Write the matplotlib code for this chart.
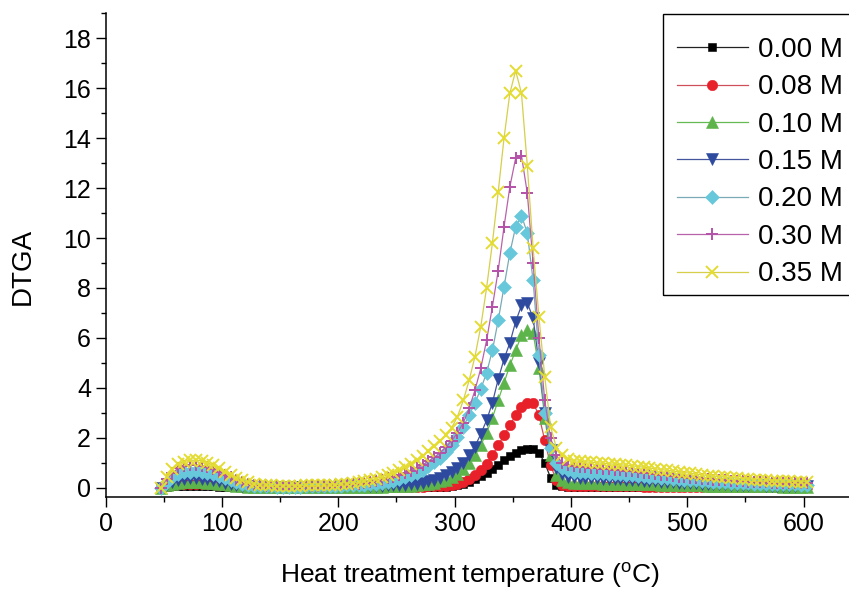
import numpy as np
import matplotlib
matplotlib.use("Agg")
import matplotlib.pyplot as plt
from matplotlib.patches import Rectangle
from matplotlib.ticker import MultipleLocator

plt.rcParams['font.family'] = ['Liberation Sans', 'DejaVu Sans']
plt.rcParams['mathtext.fontset'] = 'custom'
plt.rcParams['mathtext.rm'] = 'Liberation Sans'

# temperature grid of the measurement (every 5 degC)
temps = np.arange(47.5, 603, 5.0)

dtga_000 = [
    0.0, 0.03, 0.05, 0.06, 0.07, 0.07, 0.07, 0.07, 0.06, 0.05, 0.04, 0.03, 0.02, 0.02, 0.01, 0.01, 0.01, 0.01, 0.01,
    0.01, 0.01, 0.01, 0.01, 0.01, 0.01, 0.01, 0.01, 0.01, 0.01, 0.01,
    0.01, 0.01, 0.01, 0.01, 0.01, 0.01, 0.01, 0.01, 0.01, 0.01, 0.01, 0.01, 0.01, 0.01, 0.01, 0.01, 0.02, 0.02, 0.03, 0.04,
    0.06, 0.1, 0.16, 0.24, 0.34, 0.46, 0.6, 0.76, 0.93, 1.1, 1.26, 1.4, 1.5, 1.56, 1.55, 1.4, 1.0, 0.4, 0.12, 0.05, 0.03,
    0.02, 0.02, 0.02, 0.02, 0.02, 0.02, 0.02, 0.02, 0.02, 0.02, 0.02, 0.02, 0.02, 0.02, 0.02, 0.02, 0.02, 0.02, 0.02, 0.02,
    0.01, 0.01, 0.01, 0.01, 0.01, 0.01, 0.01, 0.01, 0.01, 0.01, 0.01, 0.01, 0.01, 0.01, 0.01, 0.01, 0.01, 0.01, 0.01, 0.01, 0.01,
]
dtga_008 = [
    0.0, 0.07, 0.11, 0.14, 0.16, 0.17, 0.17, 0.16, 0.15, 0.13, 0.11, 0.09, 0.07, 0.05, 0.04, 0.03, 0.02, 0.02, 0.02,
    0.02, 0.02, 0.02, 0.02, 0.02, 0.02, 0.02, 0.02, 0.02, 0.02, 0.02,
    0.02, 0.02, 0.02, 0.02, 0.02, 0.02, 0.02, 0.02, 0.02, 0.02, 0.03, 0.03, 0.03, 0.03, 0.04, 0.04, 0.05, 0.06, 0.07, 0.08,
    0.1, 0.15, 0.25, 0.35, 0.5, 0.7, 0.95, 1.3, 1.7, 2.1, 2.5, 2.9, 3.25, 3.4, 3.4, 2.9, 1.9, 0.9, 0.3, 0.12, 0.08,
    0.07, 0.07, 0.07, 0.06, 0.06, 0.06, 0.06, 0.05, 0.05, 0.05, 0.05, 0.05, 0.04, 0.04, 0.04, 0.04, 0.04, 0.03, 0.03, 0.03,
    0.03, 0.03, 0.03, 0.03, 0.02, 0.02, 0.02, 0.02, 0.02, 0.02, 0.02, 0.02, 0.02, 0.01, 0.01, 0.01, 0.01, 0.01, 0.01, 0.01, 0.01,
]
dtga_010 = [
    0.0, 0.1, 0.16, 0.2, 0.22, 0.23, 0.23, 0.22, 0.21, 0.19, 0.16, 0.13, 0.1, 0.07, 0.05, 0.04, 0.03, 0.02, 0.02,
    0.02, 0.02, 0.02, 0.02, 0.02, 0.02, 0.02, 0.02, 0.02, 0.02, 0.02,
    0.02, 0.02, 0.02, 0.03, 0.03, 0.03, 0.03, 0.04, 0.04, 0.05, 0.05, 0.06, 0.07, 0.08, 0.1, 0.13, 0.16, 0.2, 0.26, 0.33,
    0.42, 0.55, 0.75, 1.0, 1.3, 1.7, 2.2, 2.8, 3.5, 4.2, 4.9, 5.5, 6.1, 6.3, 6.2, 4.8, 2.8, 1.3, 0.5, 0.3, 0.22,
    0.2, 0.19, 0.19, 0.18, 0.18, 0.17, 0.17, 0.16, 0.16, 0.15, 0.15, 0.14, 0.14, 0.13, 0.13, 0.12, 0.12, 0.11, 0.11, 0.1,
    0.1, 0.09, 0.09, 0.08, 0.08, 0.08, 0.07, 0.07, 0.07, 0.06, 0.06, 0.06, 0.05, 0.05, 0.05, 0.05, 0.04, 0.04, 0.04, 0.04, 0.04,
]
dtga_015 = [
    0.0, 0.15, 0.25, 0.32, 0.36, 0.38, 0.38, 0.37, 0.35, 0.31, 0.26, 0.21, 0.16, 0.12, 0.08, 0.06, 0.04, 0.03, 0.03,
    0.03, 0.03, 0.03, 0.03, 0.03, 0.03, 0.03, 0.03, 0.03, 0.04, 0.04,
    0.04, 0.04, 0.05, 0.05, 0.05, 0.06, 0.06, 0.07, 0.08, 0.09, 0.1, 0.11, 0.12, 0.14, 0.17, 0.21, 0.26, 0.32, 0.4, 0.5,
    0.62, 0.8, 1.0, 1.3, 1.65, 2.15, 2.7, 3.4, 4.35, 5.15, 5.8, 6.65, 7.3, 7.4, 6.8, 5.0, 3.0, 1.5, 0.8, 0.55, 0.45,
    0.42, 0.41, 0.4, 0.39, 0.38, 0.37, 0.36, 0.35, 0.34, 0.33, 0.32, 0.3, 0.29, 0.28, 0.26, 0.25, 0.24, 0.22, 0.21, 0.2,
    0.19, 0.18, 0.17, 0.16, 0.15, 0.14, 0.13, 0.12, 0.11, 0.1, 0.1, 0.09, 0.09, 0.08, 0.08, 0.07, 0.07, 0.06, 0.06, 0.06, 0.05,
]
dtga_020 = [
    0.0, 0.25, 0.42, 0.55, 0.62, 0.65, 0.66, 0.64, 0.6, 0.54, 0.46, 0.38, 0.3, 0.22, 0.16, 0.11, 0.08, 0.06, 0.05,
    0.05, 0.04, 0.04, 0.04, 0.04, 0.04, 0.05, 0.05, 0.05, 0.06, 0.06,
    0.07, 0.08, 0.09, 0.1, 0.11, 0.12, 0.14, 0.16, 0.19, 0.23, 0.28, 0.34, 0.42, 0.5, 0.6, 0.72, 0.86, 1.02, 1.2, 1.42,
    1.7, 2.05, 2.45, 2.9, 3.4, 3.95, 4.6, 5.5, 6.7, 8.05, 9.4, 10.45, 10.9, 10.2, 8.3, 5.3, 3.0, 1.6, 1.0, 0.8, 0.7,
    0.64, 0.63, 0.62, 0.61, 0.6, 0.58, 0.57, 0.56, 0.54, 0.53, 0.51, 0.49, 0.47, 0.45, 0.43, 0.41, 0.39, 0.37, 0.35, 0.33,
    0.31, 0.3, 0.28, 0.27, 0.25, 0.24, 0.23, 0.21, 0.2, 0.19, 0.18, 0.17, 0.16, 0.16, 0.15, 0.14, 0.14, 0.13, 0.13, 0.12, 0.12,
]
dtga_030 = [
    0.0, 0.35, 0.6, 0.78, 0.86, 0.9, 0.9, 0.88, 0.82, 0.74, 0.64, 0.53, 0.42, 0.32, 0.24, 0.17, 0.12, 0.09, 0.07,
    0.07, 0.06, 0.06, 0.06, 0.06, 0.06, 0.07, 0.07, 0.08, 0.08, 0.09,
    0.1, 0.11, 0.13, 0.15, 0.17, 0.2, 0.24, 0.28, 0.33, 0.39, 0.45, 0.52, 0.6, 0.69, 0.8, 0.92, 1.06, 1.22, 1.4, 1.62,
    1.88, 2.2, 2.6, 3.18, 3.9, 4.78, 5.9, 7.25, 8.7, 10.45, 12.05, 13.2, 13.3, 11.8, 9.0, 6.0, 3.5, 2.0, 1.3, 1.0, 0.9,
    0.86, 0.84, 0.82, 0.8, 0.78, 0.76, 0.74, 0.72, 0.7, 0.68, 0.66, 0.63, 0.6, 0.58, 0.55, 0.53, 0.5, 0.48, 0.45, 0.43,
    0.41, 0.39, 0.37, 0.35, 0.33, 0.31, 0.3, 0.28, 0.27, 0.26, 0.25, 0.24, 0.23, 0.22, 0.21, 0.21, 0.2, 0.2, 0.19, 0.19, 0.18,
]
dtga_035 = [
    0.0, 0.45, 0.75, 0.95, 1.05, 1.1, 1.1, 1.08, 1.0, 0.9, 0.78, 0.65, 0.52, 0.4, 0.3, 0.22, 0.16, 0.12, 0.1,
    0.09, 0.08, 0.08, 0.08, 0.08, 0.08, 0.09, 0.09, 0.1, 0.1, 0.11,
    0.12, 0.14, 0.16, 0.19, 0.22, 0.26, 0.31, 0.37, 0.44, 0.52, 0.6, 0.7, 0.82, 0.95, 1.1, 1.27, 1.46, 1.66, 1.88, 2.1,
    2.4, 2.85, 3.5, 4.3, 5.25, 6.45, 8.0, 9.8, 11.85, 14.0, 15.8, 16.7, 15.8, 12.9, 9.6, 6.85, 4.45, 2.45, 1.6, 1.3, 1.15,
    1.08, 1.06, 1.04, 1.02, 1.0, 0.98, 0.96, 0.94, 0.92, 0.9, 0.88, 0.85, 0.82, 0.79, 0.76, 0.73, 0.7, 0.67, 0.64, 0.61,
    0.58, 0.55, 0.52, 0.49, 0.47, 0.45, 0.43, 0.41, 0.39, 0.37, 0.35, 0.33, 0.31, 0.3, 0.29, 0.28, 0.27, 0.26, 0.25, 0.24, 0.24,
]

labels = ['0.00 M', '0.08 M', '0.10 M', '0.15 M', '0.20 M', '0.30 M', '0.35 M']
series = [dtga_000, dtga_008, dtga_010, dtga_015, dtga_020, dtga_030, dtga_035]

# marker, marker colour, line colour, marker size
styles = [
    ('s', '#000000', '#222222', 6.0),
    ('o', '#e8202a', '#d0505a', 7.5),
    ('^', '#5db44a', '#66bb55', 8.0),
    ('v', '#2e4a9e', '#44559e', 8.0),
    ('D', '#66c8da', '#7aaab5', 7.0),
    ('+', '#b352a8', '#b862aa', 9.0),
    ('x', '#e4dc30', '#d6cf4a', 9.0),
]

W, H = 849, 592
fig = plt.figure(figsize=(W / 100, H / 100), dpi=100)
ax = fig.add_axes([0.1243, 0.1605, 0.8757, 0.817])

for y, lab, (mk, mc, lc, ms) in zip(series, labels, styles):
    if mk in ('+', 'x'):
        ax.plot(temps, y, color=lc, lw=0.9, marker=mk, ms=ms, mec=mc, mew=1.4, label=lab)
    else:
        ax.plot(temps, y, color=lc, lw=0.9, marker=mk, ms=ms, mfc=mc, mec=mc, mew=0.4, label=lab)

ax.set_xlim(0, 639)
ax.set_ylim(-0.37, 19.0)
ax.xaxis.set_major_locator(MultipleLocator(100))
ax.xaxis.set_minor_locator(MultipleLocator(50))
ax.yaxis.set_major_locator(MultipleLocator(2))
ax.yaxis.set_minor_locator(MultipleLocator(1))
ax.tick_params(which='major', direction='out', length=7, width=1.0, labelsize=18)
ax.tick_params(which='minor', direction='out', length=3.5, width=1.0)
ax.spines['top'].set_visible(False)
ax.spines['right'].set_visible(False)
for s in ('left', 'bottom'):
    ax.spines[s].set_linewidth(1.1)

ax.set_xlabel(r'Heat treatment temperature ($^{\rm o}$C)', fontsize=19, labelpad=18)
ax.xaxis.label.set_x(0.49)
ax.set_ylabel('DTGA', fontsize=20, labelpad=20)
ax.yaxis.label.set_y(0.477)

# legend entries without frame; the box is drawn on its own (more room on top)
leg = ax.legend(loc='upper left', bbox_to_anchor=(663 / W, 1 - 23 / H),
                bbox_transform=fig.transFigure, fontsize=20, frameon=False,
                borderaxespad=0, handlelength=2.55, labelspacing=0.41,
                borderpad=0.5, handletextpad=0.36)
fig.patches.append(Rectangle((663 / W, 1 - 295 / H), 200 / W, 281 / H,
                             transform=fig.transFigure, fill=False,
                             edgecolor='black', linewidth=1.0, zorder=5))

fig.savefig('out.png', dpi=100)
